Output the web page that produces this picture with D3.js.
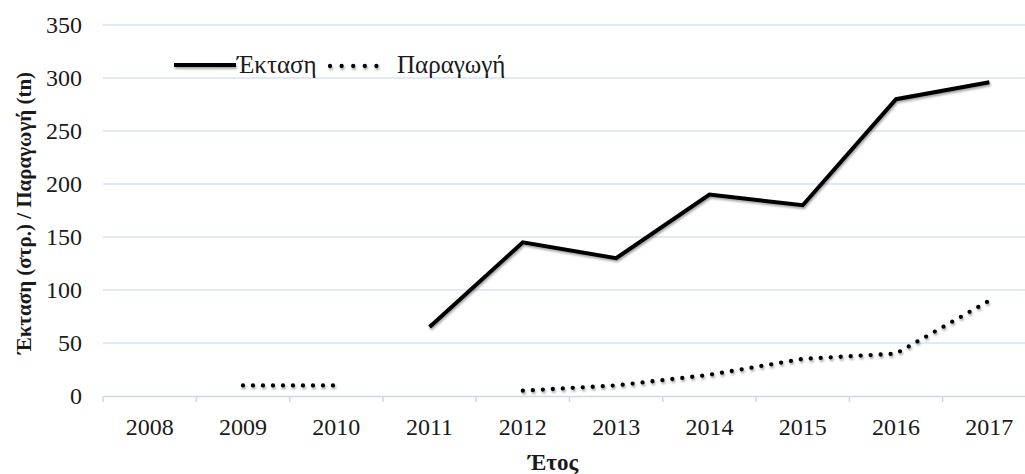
<!DOCTYPE html>
<html>
<head>
<meta charset="utf-8">
<script src="https://cdn.jsdelivr.net/npm/d3@7"></script>
<style>
  html, body { margin: 0; padding: 0; background: #fff; }
  svg { display: block; }
</style>
</head>
<body>
<svg id="chart" width="1025" height="474"></svg>
<script>
const years = ["2008","2009","2010","2011","2012","2013","2014","2015","2016","2017"];
const areaValues = [null, null, null, 65, 145, 130, 190, 180, 280, 296];
const productionValues = [null, 10, 10, null, 5, 10, 20, 35, 40, 90];
const yTicks = [0, 50, 100, 150, 200, 250, 300, 350];
const seriesNames = ["Έκταση", "Παραγωγή"];
const yTitle = "Έκταση (στρ.) / Παραγωγή (tn)";
const xTitle = "Έτος";

(function () {
const FONT = "'Liberation Serif', 'Times New Roman', Times, 'DejaVu Serif', serif";
const svg = d3.select("#chart");
const mLeft = 103, mRight = 1036, mTop = 25, mBottom = 396;

const x = d3.scaleBand().domain(years).range([mLeft, mRight]);
const y = d3.scaleLinear().domain([0, 350]).range([mBottom, mTop]);

const defs = svg.append("defs");
const f = defs.append("filter").attr("id", "sh").attr("filterUnits", "userSpaceOnUse")
  .attr("x", 0).attr("y", 0).attr("width", 1025).attr("height", 474);
f.append("feDropShadow").attr("dx", 1).attr("dy", 2).attr("stdDeviation", 1.3).attr("flood-color", "#000").attr("flood-opacity", 0.35);

// gridlines
svg.append("g").selectAll("line").data(yTicks.filter(d => d > 0)).join("line")
  .attr("x1", mLeft).attr("x2", 1025)
  .attr("y1", d => y(d)).attr("y2", d => y(d))
  .attr("stroke", "#d6e2f2").attr("stroke-width", 1.5);

// x axis
const xAxis = svg.append("g").attr("transform", `translate(0,${mBottom})`)
  .call(d3.axisBottom(x).tickSize(0).tickPadding(22));
xAxis.attr("font-family", null);
xAxis.select(".domain").attr("stroke", "#c9d8ec").attr("stroke-width", 1.5);
xAxis.selectAll("text").attr("font-size", 24).style("font-family", FONT).attr("fill", "#1a1a1a");
// boundary ticks
const bounds = years.map(d => x(d)).concat([mRight]);
svg.append("g").selectAll("line").data(bounds).join("line")
  .attr("x1", d => d).attr("x2", d => d)
  .attr("y1", mBottom).attr("y2", mBottom + 6)
  .attr("stroke", "#c9d8ec").attr("stroke-width", 1.5);

// y axis labels
const yAxis = svg.append("g").attr("transform", `translate(${mLeft},0)`)
  .call(d3.axisLeft(y).tickValues(yTicks).tickSize(0).tickPadding(21));
yAxis.attr("font-family", null);
yAxis.select(".domain").remove();
yAxis.selectAll("text").attr("font-size", 24).style("font-family", FONT).attr("fill", "#1a1a1a");

// lines
const cx = d => x(d) + x.bandwidth() / 2;
const line = d3.line().defined(d => d.v !== null).x(d => cx(d.year)).y(d => y(d.v));
const areaData = years.map((yr, i) => ({ year: yr, v: areaValues[i] }));
const prodData = years.map((yr, i) => ({ year: yr, v: productionValues[i] }));

svg.append("path").datum(areaData).attr("d", line)
  .attr("fill", "none").attr("stroke", "#000").attr("stroke-width", 4)
  .attr("stroke-linejoin", "miter").attr("filter", "url(#sh)");
svg.append("path").datum(prodData).attr("d", line)
  .attr("fill", "none").attr("stroke", "#000").attr("stroke-width", 4.3)
  .attr("stroke-dasharray", "0 10").attr("stroke-linecap", "round").attr("filter", "url(#sh)");

// legend
const lg = svg.append("g");
lg.append("line").attr("x1", 174).attr("x2", 236).attr("y1", 65).attr("y2", 65)
  .attr("stroke", "#000").attr("stroke-width", 4).attr("filter", "url(#sh)");
lg.append("text").attr("x", 237).attr("y", 73).attr("font-size", 25).style("font-family", FONT).attr("fill", "#1a1a1a").text(seriesNames[0]);
lg.append("line").attr("x1", 330).attr("x2", 388).attr("y1", 66).attr("y2", 66)
  .attr("stroke", "#000").attr("stroke-width", 4.3).attr("stroke-dasharray", "0 11.6").attr("stroke-linecap", "round").attr("filter", "url(#sh)");
lg.append("text").attr("x", 397).attr("y", 73).attr("font-size", 25).style("font-family", FONT).attr("fill", "#1a1a1a").text(seriesNames[1]);

// titles
svg.append("text").attr("transform", "translate(31,213) rotate(-90)")
  .attr("text-anchor", "middle").attr("font-size", 21).attr("font-weight", "bold").style("font-family", FONT).attr("fill", "#1a1a1a").text(yTitle);
svg.append("text").attr("x", 553).attr("y", 470)
  .attr("text-anchor", "middle").attr("font-size", 23).attr("font-weight", "bold").style("font-family", FONT).attr("fill", "#1a1a1a").text(xTitle);
})();
</script>
</body>
</html>
